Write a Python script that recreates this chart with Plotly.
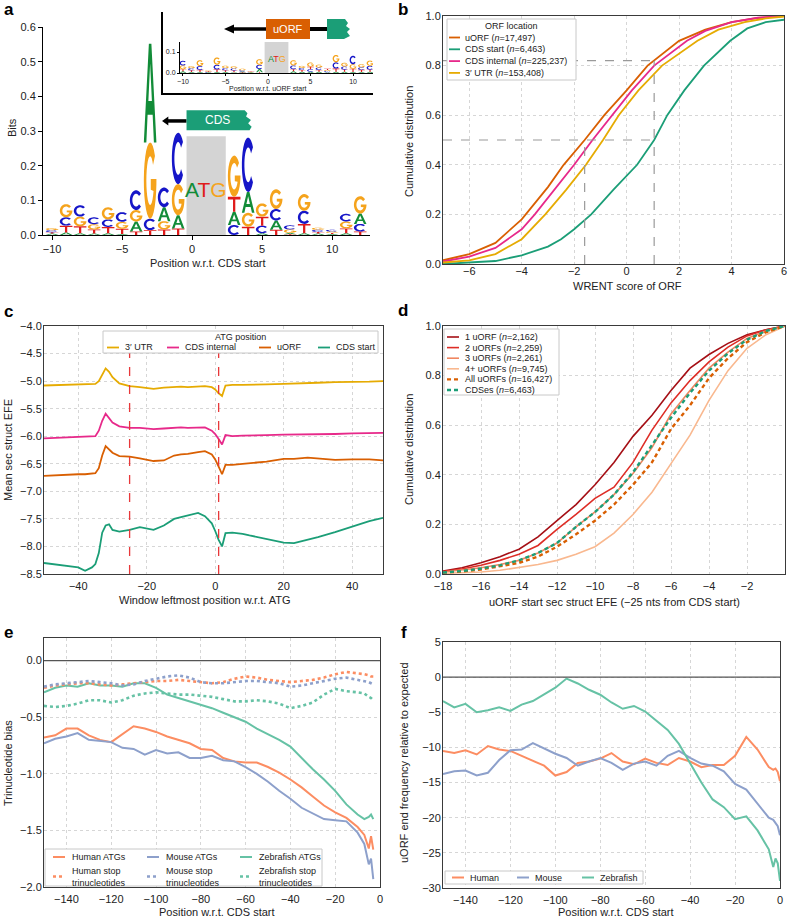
import numpy as np
import plotly.graph_objects as go

W, H = 788, 921
FONT = "Liberation Sans, Arial, Helvetica, sans-serif"

# ── Panel a: sequence logo around CDS start (bits) ─────────────────────────
logo_pos = [-10, -9, -8, -7, -6, -5, -4, -3, -2, -1, 3, 4, 5, 6, 7, 8, 9, 10, 11, 12]
logo_A = [.004, .007, .005, .004, .005, .003, .029, .285, .040, .038, .038, .060, .005, .027, .004, .005, .004, .003, .005, .030]
logo_C = [.006, .024, .033, .020, .022, .028, .057, .033, .057, .148, .029, .157, .022, .033, .012, .038, .006, .005, .022, .022]
logo_G = [.006, .038, .028, .015, .035, .020, .033, .220, .024, .090, .119, .040, .038, .057, .010, .048, .006, .004, .020, .050]
logo_T = [.004, .020, .020, .012, .018, .015, .010, .014, .016, .019, .043, .024, .026, .015, .002, .027, .005, .003, .014, .010]

# inset: logo around uORF start
inset_pos = [-10, -9, -8, -7, -6, -5, -4, -3, -2, -1, 3, 4, 5, 6, 7, 8, 9, 10, 11, 12]
inset_A = [.008, .005, .005, .002, .005, .005, .004, .004, .002, .015, .008, .006, .006, .006, .004, .006, .006, .005, .005, .006]
inset_C = [.022, .010, .018, .003, .022, .010, .010, .006, .002, .020, .018, .010, .012, .012, .005, .030, .015, .040, .012, .018]
inset_G = [.018, .010, .028, .004, .035, .012, .010, .007, .002, .027, .025, .010, .020, .014, .005, .035, .018, .022, .015, .025]
inset_T = [.010, .008, .010, .003, .012, .008, .008, .003, .002, .004, .010, .008, .012, .008, .006, .015, .010, .015, .010, .010]

BASE_COLORS = {"A": "#128c38", "C": "#1616c8", "G": "#f5a31c", "T": "#e01b1b"}

# ── Panel b: cumulative WRENT score by ORF location ────────────────────────
b_uorf_x = [-7, -6, -5, -4, -3, -2.4, -1.6, -0.85, 0, 0.8, 2, 3, 4, 5, 6]
b_uorf_y = [0.015, 0.04, 0.085, 0.18, 0.31, 0.40, 0.50, 0.60, 0.70, 0.80, 0.90, 0.945, 0.975, 0.992, 1.0]
b_cdsint_x = [-7, -6, -5, -4, -3.5, -2.75, -2, -1.3, -0.55, 0.2, 1.05, 2.3, 3, 4, 5, 6]
b_cdsint_y = [0.01, 0.03, 0.065, 0.14, 0.20, 0.30, 0.40, 0.50, 0.60, 0.70, 0.80, 0.90, 0.94, 0.975, 0.993, 1.0]
b_utr_x = [-7, -6, -5, -4, -3.1, -2.3, -1.55, -0.9, -0.3, 0.45, 1.35, 2.7, 3.5, 4.5, 5.3, 6]
b_utr_y = [0.006, 0.015, 0.04, 0.10, 0.20, 0.30, 0.40, 0.50, 0.60, 0.70, 0.80, 0.90, 0.945, 0.975, 0.99, 0.998]
b_cds_x = [-7, -6, -5, -4, -3, -2.5, -2, -1.35, -0.5, 0.4, 1.05, 1.55, 2.2, 2.95, 3.95, 4.6, 5.3, 6]
b_cds_y = [0.0, 0.005, 0.012, 0.035, 0.07, 0.10, 0.14, 0.20, 0.30, 0.40, 0.50, 0.60, 0.70, 0.80, 0.90, 0.95, 0.975, 0.985]
b_medians = [-1.6, 1.05]      # uORF median, CDS start median
b_levels = [0.5, 0.82]        # CDF levels marked

# ── Panel c: mean secondary-structure EFE around ATG ───────────────────────
c_x = [-50, -45, -40, -38, -36, -35, -34, -33, -32, -31, -30, -28, -25, -22, -18, -15, -12, -10, -8,
       -5, -3, -1, 0, 1, 2, 3, 5, 8, 10, 15, 20, 23, 27, 30, 35, 40, 45, 49]
c_utr = [-5.08, -5.07, -5.07, -5.06, -5.06, -5.05, -5.00, -4.88, -4.77, -4.83, -4.93, -5.04, -5.09, -5.11,
         -5.14, -5.12, -5.10, -5.10, -5.11, -5.10, -5.09, -5.11, -5.15, -5.22, -5.27, -5.08, -5.07, -5.07,
         -5.07, -5.06, -5.05, -5.04, -5.04, -5.03, -5.02, -5.02, -5.01, -5.00]
c_cdsint = [-6.04, -6.03, -6.02, -6.01, -6.01, -6.00, -5.90, -5.72, -5.59, -5.66, -5.75, -5.82, -5.85, -5.85,
            -5.87, -5.86, -5.85, -5.84, -5.85, -5.84, -5.84, -5.90, -5.96, -6.05, -6.15, -5.98, -6.00, -5.99,
            -5.99, -5.98, -5.97, -5.97, -5.97, -5.96, -5.96, -5.95, -5.95, -5.94]
c_uorf = [-6.72, -6.70, -6.69, -6.69, -6.68, -6.67, -6.58, -6.35, -6.18, -6.24, -6.30, -6.36, -6.37, -6.40,
          -6.45, -6.44, -6.35, -6.33, -6.32, -6.29, -6.27, -6.33, -6.42, -6.55, -6.69, -6.52, -6.52, -6.50,
          -6.49, -6.46, -6.41, -6.41, -6.39, -6.41, -6.43, -6.42, -6.42, -6.44]
c_cds = [-8.30, -8.34, -8.38, -8.44, -8.38, -8.32, -8.12, -7.75, -7.62, -7.60, -7.70, -7.73, -7.70, -7.65,
         -7.70, -7.62, -7.50, -7.47, -7.44, -7.39, -7.45, -7.58, -7.72, -7.88, -8.00, -7.76, -7.75, -7.77,
         -7.80, -7.86, -7.93, -7.94, -7.88, -7.83, -7.74, -7.64, -7.54, -7.48]
c_marks = [-25, 1]

# ── Panel d: cumulative uORF start EFE by number of uORFs ──────────────────
d_x = [-18, -17, -16, -15, -14, -13, -12, -11, -10, -9, -8, -7, -6, -5, -4, -3, -2, -1, 0]
d_1 = [0.012, 0.025, 0.045, 0.07, 0.10, 0.15, 0.215, 0.28, 0.36, 0.45, 0.555, 0.64, 0.74, 0.83, 0.885, 0.93, 0.965, 0.985, 1.0]
d_2 = [0.01, 0.02, 0.035, 0.055, 0.08, 0.115, 0.18, 0.24, 0.305, 0.35, 0.45, 0.58, 0.69, 0.78, 0.855, 0.915, 0.96, 0.985, 1.0]
d_3 = [0.008, 0.015, 0.025, 0.038, 0.055, 0.085, 0.125, 0.19, 0.25, 0.32, 0.405, 0.51, 0.645, 0.74, 0.83, 0.895, 0.95, 0.98, 1.0]
d_4 = [0.003, 0.005, 0.008, 0.015, 0.025, 0.038, 0.055, 0.08, 0.11, 0.165, 0.24, 0.33, 0.445, 0.56, 0.70, 0.82, 0.91, 0.965, 1.0]
d_all = [0.006, 0.01, 0.018, 0.03, 0.045, 0.07, 0.11, 0.16, 0.215, 0.28, 0.36, 0.45, 0.585, 0.68, 0.79, 0.87, 0.935, 0.975, 1.0]
d_cds = [0.006, 0.012, 0.022, 0.035, 0.055, 0.085, 0.125, 0.19, 0.25, 0.32, 0.41, 0.52, 0.63, 0.73, 0.82, 0.89, 0.945, 0.98, 1.0]

# ── Panel e: trinucleotide bias upstream of CDS start ──────────────────────
e_x = [-150, -145, -140, -135, -130, -125, -120, -115, -110, -105, -100, -95, -90, -85, -80, -75, -70,
       -65, -60, -55, -50, -45, -40, -35, -30, -25, -20, -15, -10, -7, -5, -4, -3]
e_hs_atg = [-0.68, -0.66, -0.60, -0.60, -0.66, -0.70, -0.72, -0.65, -0.58, -0.60, -0.63, -0.67, -0.70, -0.73,
            -0.78, -0.79, -0.86, -0.89, -0.90, -0.90, -0.94, -0.99, -1.05, -1.12, -1.20, -1.28, -1.34, -1.39,
            -1.47, -1.54, -1.66, -1.55, -1.67]
e_mm_atg = [-0.73, -0.69, -0.67, -0.64, -0.70, -0.71, -0.72, -0.77, -0.78, -0.83, -0.79, -0.82, -0.81, -0.86,
            -0.86, -0.84, -0.88, -0.89, -0.94, -1.00, -1.07, -1.15, -1.22, -1.30, -1.35, -1.40, -1.41, -1.42,
            -1.52, -1.62, -1.80, -1.75, -1.93]
e_dr_atg = [-0.28, -0.24, -0.22, -0.23, -0.20, -0.22, -0.22, -0.23, -0.20, -0.20, -0.24, -0.30, -0.33, -0.36,
            -0.39, -0.42, -0.46, -0.50, -0.54, -0.60, -0.65, -0.70, -0.76, -0.86, -0.96, -1.05, -1.15, -1.27,
            -1.36, -1.40, -1.38, -1.36, -1.40]
e_hs_stop = [-0.24, -0.22, -0.21, -0.20, -0.20, -0.21, -0.22, -0.21, -0.20, -0.19, -0.18, -0.18, -0.17, -0.18,
             -0.19, -0.20, -0.19, -0.16, -0.14, -0.15, -0.17, -0.18, -0.19, -0.18, -0.17, -0.15, -0.12, -0.10,
             -0.11, -0.12, -0.13, -0.14, -0.14]
e_mm_stop = [-0.23, -0.21, -0.20, -0.19, -0.18, -0.19, -0.20, -0.22, -0.21, -0.18, -0.16, -0.14, -0.13, -0.15,
             -0.19, -0.20, -0.20, -0.19, -0.18, -0.18, -0.19, -0.20, -0.23, -0.22, -0.20, -0.18, -0.16, -0.15,
             -0.17, -0.18, -0.19, -0.20, -0.21]
e_dr_stop = [-0.40, -0.41, -0.40, -0.38, -0.35, -0.35, -0.37, -0.35, -0.31, -0.29, -0.28, -0.29, -0.30, -0.30,
             -0.31, -0.32, -0.34, -0.36, -0.36, -0.35, -0.36, -0.38, -0.42, -0.40, -0.37, -0.30, -0.25, -0.27,
             -0.28, -0.29, -0.32, -0.33, -0.35]

# ── Panel f: uORF end frequency relative to expected ───────────────────────
f_x = [-150, -145, -140, -135, -130, -125, -120, -115, -110, -105, -100, -95, -90, -85, -80, -75, -70,
       -65, -60, -55, -50, -45, -40, -35, -30, -25, -20, -15, -10, -5, -3, -2, -1, 0]
f_hs = [-10.5, -10.8, -10.4, -11.0, -9.8, -10.3, -10.5, -11.2, -12.0, -12.6, -14.0, -13.5, -12.2, -12.0, -11.6,
        -10.8, -12.0, -12.4, -11.6, -12.2, -12.5, -11.5, -12.0, -12.8, -12.5, -12.5, -11.2, -8.5, -10.3, -12.8,
        -13.2, -13.0, -13.5, -14.8]
f_mm = [-13.8, -13.4, -13.3, -14.0, -13.6, -11.8, -10.4, -10.3, -9.4, -10.2, -10.9, -11.5, -12.6, -12.0, -11.5,
        -12.2, -13.2, -12.3, -12.0, -12.6, -11.2, -10.5, -11.5, -12.3, -12.6, -13.4, -15.2, -16.0, -18.0, -20.0,
        -20.3, -20.8, -21.2, -22.5]
f_dr = [-3.4, -4.3, -3.8, -5.0, -4.7, -4.3, -4.8, -3.9, -3.4, -2.4, -1.5, -0.2, -0.9, -1.8, -2.5, -3.6, -4.5,
        -4.1, -4.9, -6.2, -7.5, -9.5, -12.2, -15.0, -17.4, -18.5, -20.2, -19.8, -21.8, -24.5, -27.0, -25.8,
        -26.5, -29.0]

ORANGE, GREEN, PINK, YELLOW = "#d95f02", "#1b9e77", "#e7298a", "#e6ab02"
HS, MM, DR = "#fc8d62", "#8da0cb", "#66c2a5"
DASHED = "4px,3px"
DOTTED = "3px,3px"


# ── pixel helpers (margins are zero, so paper == page) ─────────────────────
def px(x):
    return x / W


def py(y):
    return 1 - y / H


def dom_x(x0, x1):
    return [px(x0), px(x1)]


def dom_y(top, bottom):
    return [py(bottom), py(top)]


# ── letter glyphs for the logo ─────────────────────────────────────────────
def glyph(letter, x0, x1, y0, y1):
    def P(u, v):
        return f"{x0 + u * (x1 - x0):.4f},{y0 + v * (y1 - y0):.5f}"

    def poly(pts):
        return "M" + " L".join(P(u, v) for u, v in pts) + " Z"

    if letter == "T":
        return poly([(0.41, 0), (0.59, 0), (0.59, 0.82), (1, 0.82), (1, 1), (0, 1), (0, 0.82), (0.41, 0.82)])
    if letter == "A":
        outer = [(0, 0), (0.2, 0), (0.3, 0.28), (0.7, 0.28), (0.8, 0), (1, 0), (0.6, 1), (0.4, 1)]
        hole = [(0.36, 0.42), (0.5, 0.8), (0.64, 0.42)]
        return poly(outer) + " " + poly(hole)
    th_out = np.radians(np.linspace(40, 320 if letter == "C" else 355, 26))
    outer = [(0.5 + 0.5 * np.cos(t), 0.5 + 0.5 * np.sin(t)) for t in th_out]
    if letter == "C":
        th_in = np.radians(np.linspace(320, 40, 26))
        inner = [(0.5 + 0.3 * np.cos(t), 0.5 + 0.32 * np.sin(t)) for t in th_in]
        return poly(outer + inner)
    bar = [(1.0, 0.52), (0.55, 0.52), (0.55, 0.38)]
    th_in = np.radians(np.linspace(335, 40, 24))
    inner = [(0.5 + 0.3 * np.cos(t), 0.5 + 0.32 * np.sin(t)) for t in th_in]
    return poly(outer + bar + inner)


def logo_shapes(pos, heights, xref, yref, width):
    shapes = []
    for i, p in enumerate(pos):
        stack = sorted((heights[b][i], b) for b in "ACGT")
        base = 0.0
        for h, b in stack:
            shapes.append(dict(type="path", xref=xref, yref=yref, layer="above",
                               path=glyph(b, p - width / 2, p + width / 2, base, base + h),
                               fillcolor=BASE_COLORS[b], line=dict(width=0)))
            base += h
    return shapes


# ── figure ─────────────────────────────────────────────────────────────────
fig = go.Figure()


def add_line(x, y, ax, color, name, width=1.8, dash=None):
    fig.add_trace(go.Scatter(x=x, y=y, xaxis="x" + ax, yaxis="y" + ax, mode="lines",
                             line=dict(color=color, width=width, dash=dash),
                             name=name, showlegend=False, hoverinfo="skip"))


# b
add_line(b_uorf_x, b_uorf_y, "3", ORANGE, "uORF")
add_line(b_cds_x, b_cds_y, "3", GREEN, "CDS start")
add_line(b_cdsint_x, b_cdsint_y, "3", PINK, "CDS internal")
add_line(b_utr_x, b_utr_y, "3", YELLOW, "3′ UTR")

# c
add_line(c_x, c_utr, "4", YELLOW, "3′ UTR")
add_line(c_x, c_cdsint, "4", PINK, "CDS internal")
add_line(c_x, c_uorf, "4", ORANGE, "uORF")
add_line(c_x, c_cds, "4", GREEN, "CDS start")

# d
add_line(d_x, d_1, "5", "#a50f15", "1 uORF", 1.6)
add_line(d_x, d_2, "5", "#de2d26", "2 uORFs", 1.6)
add_line(d_x, d_3, "5", "#f08660", "3 uORFs", 1.6)
add_line(d_x, d_4, "5", "#f9b88f", "4+ uORFs", 1.6)
add_line(d_x, d_all, "5", ORANGE, "All uORFs", 2.4, DASHED)
add_line(d_x, d_cds, "5", GREEN, "CDSes", 2.4, DASHED)

# e
add_line(e_x, e_hs_atg, "6", HS, "Human ATGs", 2)
add_line(e_x, e_mm_atg, "6", MM, "Mouse ATGs", 2)
add_line(e_x, e_dr_atg, "6", DR, "Zebrafish ATGs", 2)
add_line(e_x, e_hs_stop, "6", HS, "Human stop trinucleotides", 2.6, DOTTED)
add_line(e_x, e_mm_stop, "6", MM, "Mouse stop trinucleotides", 2.6, DOTTED)
add_line(e_x, e_dr_stop, "6", DR, "Zebrafish stop trinucleotides", 2.6, DOTTED)

# f
add_line(f_x, f_hs, "7", HS, "Human", 2)
add_line(f_x, f_mm, "7", MM, "Mouse", 2)
add_line(f_x, f_dr, "7", DR, "Zebrafish", 2)

# ── shapes ─────────────────────────────────────────────────────────────────
shapes = []
shapes += logo_shapes(logo_pos, {"A": logo_A, "C": logo_C, "G": logo_G, "T": logo_T}, "x", "y", 0.9)
shapes += logo_shapes(inset_pos, {"A": inset_A, "C": inset_C, "G": inset_G, "T": inset_T}, "x2", "y2", 0.8)

# grey ATG boxes
shapes.append(dict(type="rect", xref="x", yref="y", x0=-0.4, x1=2.4, y0=0, y1=0.285,
                   fillcolor="#d4d4d4", line=dict(width=0), layer="below"))
shapes.append(dict(type="rect", xref="x2", yref="y2", x0=-0.4, x1=2.4, y0=0, y1=0.148,
                   fillcolor="#d4d4d4", line=dict(width=0), layer="below"))

# CDS gene diagram (panel a data coords)
shapes.append(dict(type="line", xref="x", yref="y", x0=-1.8, x1=-0.4, y0=0.329, y1=0.329,
                   line=dict(color="black", width=3.5)))
shapes.append(dict(type="path", xref="x", yref="y", path="M-2.15,0.329 L-1.7,0.342 L-1.7,0.316 Z",
                   fillcolor="black", line=dict(width=0)))
shapes.append(dict(type="path", xref="x", yref="y",
                   path="M-0.4,0.302 L4.1,0.302 L4.25,0.312 L4.0,0.322 L4.2,0.332 L3.85,0.342 "
                        "L3.95,0.351 L3.75,0.36 L-0.4,0.36 Z",
                   fillcolor=GREEN, line=dict(width=0)))


def pxline(x0, y0, x1, y1, width, color="black", dash=None):
    return dict(type="line", xref="paper", yref="paper", x0=px(x0), y0=py(y0), x1=px(x1), y1=py(y1),
                line=dict(color=color, width=width, dash=dash), layer="above")


def pxpath(pts, color):
    path = "M" + " L".join(f"{px(x):.5f},{py(y):.5f}" for x, y in pts) + " Z"
    return dict(type="path", xref="paper", yref="paper", path=path, fillcolor=color, line=dict(width=0))


# uORF diagram (inset) + inset frame
shapes.append(pxline(232, 29, 267, 29, 3.5))
shapes.append(pxpath([(224, 29), (234, 24.5), (234, 33.5)], "black"))
shapes.append(pxpath([(266, 19), (310, 19), (310, 39), (266, 39)], ORANGE))
shapes.append(pxline(310, 29, 328, 29, 4))
shapes.append(pxpath([(327, 19), (345, 19), (348, 23), (346, 26), (350, 29), (347, 32), (350, 36),
                      (344, 39), (327, 39)], GREEN))
shapes.append(pxline(162, 12, 162, 95, 2))
shapes.append(pxline(161, 94, 373, 94, 2))

# b reference lines
gray_dash = dict(color="#9a9a9a", width=1.2, dash="dash")
for lvl in b_levels:
    shapes.append(dict(type="line", xref="x3", yref="y3", x0=-7, x1=b_medians[1], y0=lvl, y1=lvl, line=gray_dash))
shapes.append(dict(type="line", xref="x3", yref="y3", x0=b_medians[0], x1=b_medians[0], y0=0, y1=b_levels[0],
                   line=gray_dash))
shapes.append(dict(type="line", xref="x3", yref="y3", x0=b_medians[1], x1=b_medians[1], y0=0, y1=b_levels[1],
                   line=gray_dash))

# c ATG window marks
for m in c_marks:
    shapes.append(dict(type="line", xref="x4", yref="y4 domain", x0=m, x1=m, y0=0, y1=1,
                       line=dict(color="#e8383a", width=1.3, dash="dash")))

# e / f zero lines
for ax in ("6", "7"):
    shapes.append(dict(type="line", xref=f"x{ax} domain", yref=f"y{ax}", x0=0, x1=1, y0=0, y1=0,
                       line=dict(color="#555", width=1.3)))

# ── annotations ────────────────────────────────────────────────────────────
ann = []


def text(t, x, y, size=11, angle=0, color="#222", bold=False, xanchor="center"):
    ann.append(dict(text=f"<b>{t}</b>" if bold else t, xref="paper", yref="paper", x=px(x), y=py(y),
                    showarrow=False, textangle=angle, xanchor=xanchor, yanchor="middle", align="left",
                    font=dict(size=size, color=color, family=FONT)))


# ── legends (drawn as keys in boxes so their size matches the original) ────
def legend_box(x0, y0, x1, y1):
    shapes.append(dict(type="rect", xref="paper", yref="paper", x0=px(x0), x1=px(x1), y0=py(y1), y1=py(y0),
                       fillcolor="white", line=dict(color="#c8c8c8", width=1), layer="above"))


def key(trace_idx, label, sx, y, length=12, gap=4):
    ln = fig.data[trace_idx].line
    shapes.append(pxline(sx, y, sx + length, y, ln.width, ln.color, ln.dash))
    text(label, sx + length + gap, y, size=9, xanchor="left")


# b
legend_box(447, 19, 576, 80)
text("ORF location", 511, 26, size=9)
for i, lab in enumerate(["uORF (<i>n</i>=17,497)", "CDS start (<i>n</i>=6,463)",
                         "CDS internal (<i>n</i>=225,237)", "3′ UTR (<i>n</i>=153,408)"]):
    key(i, lab, 449, 37.5 + 11.8 * i, length=11, gap=3)

# c
legend_box(103, 331, 378, 353)
text("ATG position", 240, 337, size=9)
for i, sx in enumerate([107, 167, 259, 318]):
    key(4 + i, fig.data[4 + i].name, sx, 347.5, length=12, gap=4)

# d
legend_box(444, 329, 559, 395)
for i, lab in enumerate(["1 uORF (<i>n</i>=2,162)", "2 uORFs (<i>n</i>=2,259)", "3 uORFs (<i>n</i>=2,261)",
                         "4+ uORFs (<i>n</i>=9,745)", "All uORFs (<i>n</i>=16,427)", "CDSes (<i>n</i>=6,463)"]):
    key(8 + i, lab, 447, 337 + 10.6 * i, length=12, gap=4)

# e
legend_box(45, 849, 322, 886)
cols = [53, 147, 240]
for i, lab in enumerate(["Human ATGs", "Mouse ATGs", "Zebrafish ATGs"]):
    key(14 + i, lab, cols[i], 857, length=12, gap=5)
for i, lab in enumerate(["Human stop<br>trinucleotides", "Mouse stop<br>trinucleotides",
                         "Zebrafish stop<br>trinucleotides"]):
    key(17 + i, lab, cols[i], 876.5, length=12, gap=5)

# f
legend_box(445, 871, 643, 884)
for i, sx in enumerate([452, 517, 582]):
    key(20 + i, fig.data[20 + i].name, sx, 877.5, length=12, gap=4)

# panel letters, axis titles
for letter, x, y in [("a", 2, 9), ("b", 396, 9), ("c", 2, 312), ("d", 396, 311), ("e", 2, 632), ("f", 399, 632)]:
    text(letter, x, y, 17, bold=True, color="black", xanchor="left")

text("Bits", 12, 128, angle=-90)
text("Position w.r.t. CDS start", 208, 263)
text("Position w.r.t. uORF start", 267, 88, size=7)
text("Cumulative distribution", 409, 142, angle=-90)
text("WRENT score of ORF", 627, 286)
text("Mean sec struct EFE", 8, 450, angle=-90)
text("Window leftmost position w.r.t. ATG", 205, 600)
text("Cumulative distribution", 409, 450, angle=-90)
text("uORF start sec struct EFE (−25 nts from CDS start)", 614, 602)
text("Trinucleotide bias", 8, 763, angle=-90)
text("Position w.r.t. CDS start", 217, 912)
text("uORF end frequency relative to expected", 404, 763, angle=-90)
text("Position w.r.t. CDS start", 616, 912)

atg_html = (f'<span style="color:{BASE_COLORS["A"]}">A</span><span style="color:{BASE_COLORS["T"]}">T</span>'
            f'<span style="color:{BASE_COLORS["G"]}">G</span>')
ann.append(dict(text=atg_html, xref="x", yref="y", x=1.0, y=0.13, showarrow=False,
                font=dict(size=21, family=FONT)))
ann.append(dict(text=atg_html, xref="x2", yref="y2", x=1.0, y=0.065, showarrow=False,
                font=dict(size=9, family=FONT)))
ann.append(dict(text="CDS", xref="x", yref="y", x=1.8, y=0.331, showarrow=False,
                font=dict(size=12, color="white", family=FONT)))
text("uORF", 288, 29, size=11, color="white")

# ── axes ───────────────────────────────────────────────────────────────────
tick = dict(size=11, color="#222", family=FONT)


def logo_axis(domain, anchor, rng, tickvals, size=11, fmt=None, ticklen=4):
    return dict(domain=domain, anchor=anchor, range=rng, tickvals=tickvals, tickformat=fmt,
                showline=True, linecolor="black", linewidth=1, ticks="outside", ticklen=ticklen,
                tickcolor="black", showgrid=False, zeroline=False, automargin=False,
                tickfont=dict(size=size, color="#222", family=FONT))


def frame_axis(domain, anchor, rng, tickvals, fmt=None, standoff=2):
    return dict(domain=domain, anchor=anchor, range=rng, tickvals=tickvals, tickformat=fmt,
                showline=True, linecolor="#3a3a3a", linewidth=1, mirror=True, ticks="", ticklen=0,
                showgrid=True, gridcolor="#d6d6d6", griddash="dot", gridwidth=1, zeroline=False,
                automargin=False, tickfont=tick, ticklabelstandoff=standoff)


unit = [0, 0.2, 0.4, 0.6, 0.8, 1.0]
pos_ticks = [-140, -120, -100, -80, -60, -40, -20, 0]
Y_OFF = -1   # y tick labels sit close to the frame

fig.update_layout(
    width=W, height=H, margin=dict(l=0, r=0, t=0, b=0),
    paper_bgcolor="white", plot_bgcolor="white", showlegend=False,
    font=dict(family=FONT, color="#222"),
    xaxis=logo_axis(dom_x(43, 370), "y", [-10.65, 12.7], [-10, -5, 0, 5, 10]),
    yaxis=logo_axis(dom_y(27, 235), "x", [0, 0.6], [0, 0.1, 0.2, 0.3, 0.4, 0.5, 0.6], fmt=".1f"),
    xaxis2=logo_axis(dom_x(180, 373), "y2", [-10.35, 12.35], [-10, -5, 0, 5, 10], size=7, ticklen=2),
    yaxis2=logo_axis(dom_y(41.5, 73), "x2", [0, 0.15], [0, 0.1], size=7, fmt=".1f", ticklen=2),
    xaxis3=frame_axis(dom_x(443, 784), "y3", [-7, 6], [-6, -4, -2, 0, 2, 4, 6], None, -3),
    yaxis3=frame_axis(dom_y(16, 264), "x3", [0, 1], unit, ".1f", Y_OFF),
    xaxis4=frame_axis(dom_x(44, 383), "y4", [-50, 49], [-40, -20, 0, 20, 40]),
    yaxis4=frame_axis(dom_y(326, 574), "x4", [-8.5, -4.0],
                      [-8.5, -8.0, -7.5, -7.0, -6.5, -6.0, -5.5, -5.0, -4.5, -4.0], ".1f", Y_OFF),
    xaxis5=frame_axis(dom_x(443, 785), "y5", [-18, 0], [-18, -16, -14, -12, -10, -8, -6, -4, -2, 0]),
    yaxis5=frame_axis(dom_y(326, 574), "x5", [0, 1], unit, ".1f", Y_OFF),
    xaxis6=frame_axis(dom_x(44, 380), "y6", [-150, 0], pos_ticks),
    yaxis6=frame_axis(dom_y(638, 887), "x6", [-2.0, 0.2], [-2.0, -1.5, -1.0, -0.5, 0.0], ".1f", Y_OFF),
    xaxis7=frame_axis(dom_x(443, 780), "y7", [-150, 0], pos_ticks),
    yaxis7=frame_axis(dom_y(642, 888), "x7", [-30, 5], [-30, -25, -20, -15, -10, -5, 0, 5], None, Y_OFF),
    shapes=shapes,
    annotations=ann,
)

# the page body has a default 8px margin; drop it so the figure sits at (0, 0)
fig.write_html("out.html", config={"displayModeBar": False},
               post_script="document.body.style.margin='0';")
